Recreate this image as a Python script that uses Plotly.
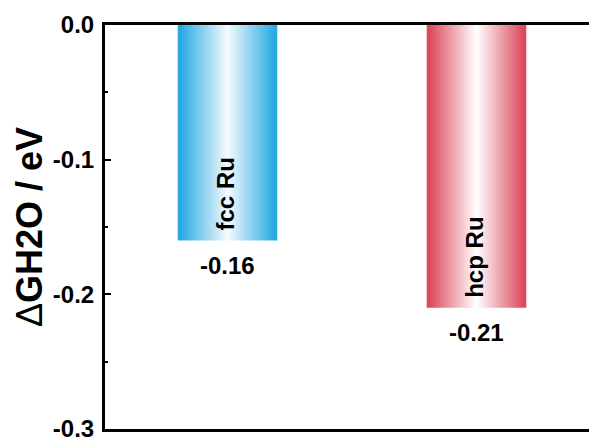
import plotly.graph_objects as go

# ---- data ----
categories = ["fcc Ru", "hcp Ru"]
values = [-0.16, -0.21]
value_labels = ["-0.16", "-0.21"]
edge_colors = ["#29ABE2", "#DC4A5C"]
center_colors = ["#F4FAFE", "#FFFFFF"]
y_tick_vals = [0.0, -0.1, -0.2, -0.3]
y_tick_text = ["0.0", "-0.1", "-0.2", "-0.3"]
y_title = '<span style="font-weight:normal">Δ</span>GH2O / eV'

FONT = "Liberation Sans, Arial, sans-serif"
bar_width = 0.40
positions = [i + 1 for i in range(len(categories))]

fig = go.Figure()

for pos, val, ec, cc in zip(positions, values, edge_colors, center_colors):
    x0, x1 = pos - bar_width / 2, pos + bar_width / 2
    fig.add_trace(go.Scatter(
        x=[x0, x1, x1, x0, x0],
        y=[0, 0, val, val, 0],
        mode="lines",
        line=dict(width=0, color=ec),
        fill="toself",
        fillgradient=dict(type="horizontal",
                          colorscale=[[0, ec], [0.03, ec], [0.5, cc], [0.97, ec], [1, ec]]),
        hoverinfo="skip",
        showlegend=False,
    ))

for pos, val, cat, lab in zip(positions, values, categories, value_labels):
    # rotated category label inside bar
    fig.add_annotation(x=pos, y=val, xref="x", yref="y", text=cat,
                       textangle=-90, showarrow=False, yanchor="bottom",
                       xanchor="center", yshift=8, xshift=-2,
                       font=dict(family=FONT, size=24, color="black", weight="bold"))
    # value label below bar
    fig.add_annotation(x=pos, y=val, xref="x", yref="y", text=lab,
                       showarrow=False, yanchor="middle", xanchor="center",
                       yshift=-25,
                       font=dict(family=FONT, size=24, color="black", weight="bold"))

fig.update_layout(
    width=589, height=431,
    margin=dict(l=97, r=0, t=17, b=10, autoexpand=False),
    paper_bgcolor="white", plot_bgcolor="white",
    showlegend=False,
    xaxis=dict(range=[0.508, 2.484], showgrid=False, zeroline=False,
               showticklabels=False, ticks="", showline=True, mirror=True,
               linecolor="black", linewidth=3),
    yaxis=dict(range=[-0.3, 0.0], showgrid=False, zeroline=False,
               tickvals=y_tick_vals, ticktext=y_tick_text,
               ticks="inside", ticklen=6, tickwidth=2, tickcolor="black",
               minor=dict(dtick=0.05, ticks="inside", ticklen=3, tickwidth=2,
                          tickcolor="black", showgrid=False),
               showline=True, mirror=False, linecolor="black", linewidth=3,
               ticklabelstandoff=3, ticklabeloverflow="allow",
               tickfont=dict(family=FONT, size=24, color="black", weight="bold"),
               title=dict(text=y_title, standoff=0,
                          font=dict(family=FONT, size=36, color="black", weight="bold"))),
)

fig.write_html("out.html")
